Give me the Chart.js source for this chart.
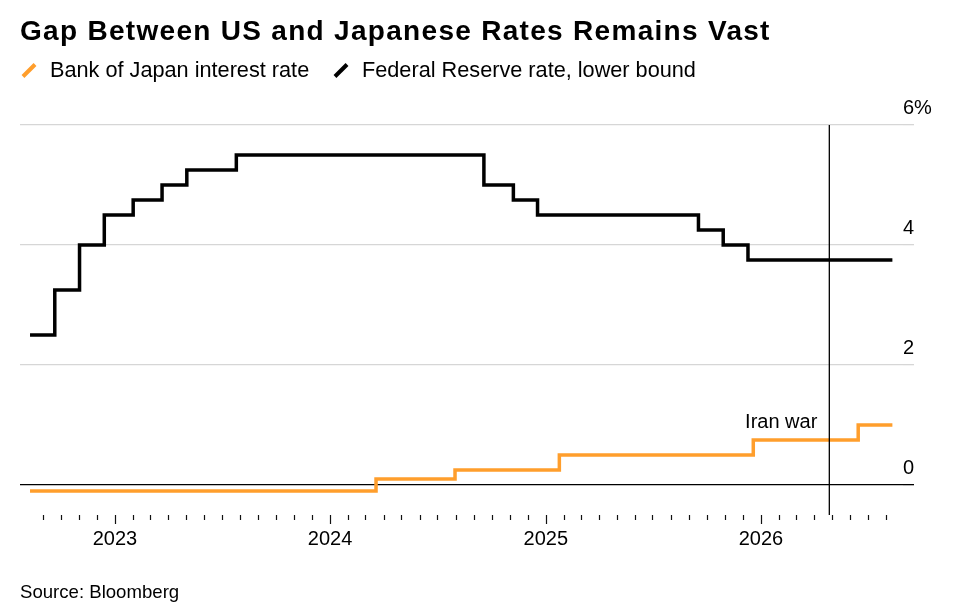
<!DOCTYPE html>
<html>
<head>
<meta charset="utf-8">
<script src="https://cdn.jsdelivr.net/npm/chart.js@4/dist/chart.umd.min.js"></script>
<style>
  body { margin: 0; background: #fff; font-family: 'Liberation Sans', Arial, sans-serif; color: #000; }
  #wrap { position: relative; width: 957px; height: 615px; overflow: hidden; }
  #chart { position: absolute; left: 0; top: 0; }
  .title { position: absolute; left: 20px; top: 14px; font-size: 28px; line-height: 34px; font-weight: bold; white-space: nowrap; letter-spacing: 1.3px; }
  .leg { position: absolute; top: 57px; font-size: 21.7px; line-height: 26px; white-space: nowrap; }
  .mark { position: absolute; width: 4px; height: 17px; transform: rotate(45deg); }
  .source { position: absolute; left: 20px; top: 581px; font-size: 18.6px; line-height: 22px; white-space: nowrap; }
</style>
</head>
<body>
<div id="wrap">
  <canvas id="chart" width="957" height="615"></canvas>
  <div class="title">Gap Between US and Japanese Rates Remains Vast</div>
  <div class="mark" style="left:27px; top:62px; background:#ff9e2c;"></div>
  <div class="leg" style="left:50px;">Bank of Japan interest rate</div>
  <div class="mark" style="left:339px; top:62px; background:#000;"></div>
  <div class="leg" style="left:362px;">Federal Reserve rate, lower bound</div>
  <div class="source">Source: Bloomberg</div>
</div>
<script>
// Fed funds (as plotted) - change dates and levels
var fedDates = ['2022-08-10', '2022-09-21', '2022-11-02', '2022-12-14', '2023-02-01', '2023-03-22', '2023-05-03', '2023-07-26',
                '2024-09-18', '2024-11-07', '2024-12-18', '2025-09-17', '2025-10-29', '2025-12-10', '2026-08-12'];
var fedRates = [2.5, 3.25, 4.0, 4.5, 4.75, 5.0, 5.25, 5.5, 5.0, 4.75, 4.5, 4.25, 4.0, 3.75, 3.75];

// Bank of Japan policy rate
var bojDates = ['2022-08-10', '2024-03-19', '2024-07-31', '2025-01-24', '2025-12-19', '2026-06-15', '2026-08-12'];
var bojRates = [-0.1, 0.1, 0.25, 0.5, 0.75, 1.0, 1.0];

// event marker
var eventDate = '2026-04-27';
var eventLabel = 'Iran war';

var xMin = '2022-07-24';
var xMax = '2026-08-30';
var xTickYears = [2023, 2024, 2025, 2026];
var monthTickFirst = [2022, 8];   // Sep 2022 (0-based month)
var monthTickLast = [2026, 7];    // Aug 2026
var yTicks = [0, 2, 4, 6];

function pts(dates, vals) {
    return dates.map(function(d, i) { return { x: Date.parse(d), y: vals[i] }; });
}

var FONT = "'Liberation Sans', Arial, sans-serif";

var monthTicks = {
    id: 'monthTicks',
    afterDraw: function(chart) {
        var xs = chart.scales.x;
        var top = chart.chartArea.bottom;
        var ctx = chart.ctx;
        ctx.save();
        ctx.strokeStyle = '#111';
        ctx.lineWidth = 1.2;
        var y = monthTickFirst[0], m = monthTickFirst[1];
        while (y < monthTickLast[0] || (y === monthTickLast[0] && m <= monthTickLast[1])) {
            var px = Math.round(xs.getPixelForValue(Date.UTC(y, m, 1))) + 0.5;
            ctx.beginPath();
            ctx.moveTo(px, top);
            ctx.lineTo(px, top + (m === 0 ? 9 : 5));
            ctx.stroke();
            m++;
            if (m > 11) { m = 0; y++; }
        }
        ctx.restore();
    }
};

var eventText = {
    id: 'eventText',
    afterDatasetsDraw: function(chart) {
        var ctx = chart.ctx;
        var px = chart.scales.x.getPixelForValue(Date.parse(eventDate));
        var py = chart.scales.y.getPixelForValue(0.955);
        ctx.save();
        ctx.font = '20px ' + FONT;
        ctx.fillStyle = '#000';
        ctx.textAlign = 'right';
        ctx.textBaseline = 'alphabetic';
        ctx.fillText(eventLabel, px - 12, py);
        ctx.restore();
    }
};

var ctx = document.getElementById('chart').getContext('2d');
var chart = new Chart(ctx, {
    type: 'line',
    data: {
        datasets: [{
            label: 'event',
            data: [{ x: Date.parse(eventDate), y: 6 }, { x: Date.parse(eventDate), y: -0.5 }],
            borderColor: '#000',
            borderWidth: 1.3,
            pointRadius: 0
        }, {
            label: 'Federal Reserve rate, lower bound',
            data: pts(fedDates, fedRates),
            borderColor: '#000',
            borderWidth: 3.5,
            stepped: true,
            pointRadius: 0,
            borderJoinStyle: 'miter'
        }, {
            label: 'Bank of Japan interest rate',
            data: pts(bojDates, bojRates),
            borderColor: '#ff9e2c',
            borderWidth: 3.5,
            stepped: true,
            pointRadius: 0,
            borderJoinStyle: 'miter'
        }]
    },
    options: {
        responsive: false,
        animation: false,
        layout: { padding: { left: 20, top: 125, right: 0, bottom: 0 } },
        plugins: {
            legend: { display: false },
            tooltip: { enabled: false }
        },
        scales: {
            x: {
                type: 'linear',
                min: Date.parse(xMin),
                max: Date.parse(xMax),
                afterBuildTicks: function(scale) {
                    scale.ticks = xTickYears.map(function(yr) { return { value: Date.UTC(yr, 0, 1) }; });
                },
                afterFit: function(scale) { scale.height = 100; },
                border: { display: false },
                grid: { drawOnChartArea: false, drawTicks: false },
                ticks: {
                    autoSkip: false,
                    maxRotation: 0,
                    padding: 12,
                    color: '#000',
                    font: { family: FONT, size: 20 },
                    callback: function(v) { return new Date(v).getUTCFullYear(); }
                }
            },
            y: {
                position: 'right',
                min: -0.5,
                max: 6,
                afterBuildTicks: function(scale) {
                    scale.ticks = yTicks.map(function(v) { return { value: v }; });
                },
                afterFit: function(scale) { scale.width = 54; },
                border: { display: false },
                grid: {
                    drawTicks: true,
                    tickLength: 11,
                    color: function(c) { return c.tick && c.tick.value === 0 ? '#000' : '#d6d6d6'; },
                    lineWidth: 1.3
                },
                ticks: {
                    padding: -11,
                    labelOffset: -17,
                    color: '#000',
                    font: { family: FONT, size: 20 },
                    callback: function(v) { return v === 6 ? v + '%' : v; }
                }
            }
        }
    },
    plugins: [monthTicks, eventText]
});
</script>
</body>
</html>
